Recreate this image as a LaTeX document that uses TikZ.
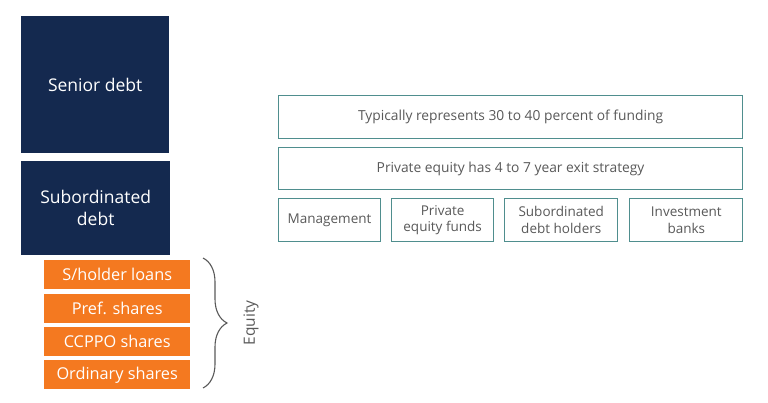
\documentclass[tikz,border=0pt]{standalone}
\usepackage{fontspec}
\setmainfont{Open Sans}
\usepackage{xcolor}
\definecolor{capnavy}{HTML}{14294F}
\definecolor{caporange}{HTML}{F47920}
\definecolor{capteal}{HTML}{4F8E8E}
\definecolor{capgray}{HTML}{595959}
\usepackage{tikz}
\usetikzlibrary{
  positioning,
  decorations.pathreplacing,
}

\begin{document}
\begin{tikzpicture}[
  x=1pt, y=-1pt,
  debt/.style={
    fill=capnavy,
    text=white,
    align=center,
    font=\fontsize{17.5}{22}\selectfont,
    inner sep=0pt,
    anchor=north west,
  },
  equitybox/.style={
    fill=caporange,
    text=white,
    minimum width=146pt,
    minimum height=29pt,
    inner sep=0pt,
    font=\fontsize{16.3}{18}\selectfont,
  },
  fact/.style={
    draw=capteal,
    line width=1.1pt,
    fill=white,
    text=capgray,
    minimum height=42pt,
    inner sep=0pt,
    align=center,
    font=\fontsize{13.8}{17}\selectfont,
  },
  investor/.style={
    fact,
    minimum height=43pt,
    font=\fontsize{13.5}{16.5}\selectfont,
  },
]

\useasboundingbox (0,0) rectangle (768,403);

% =============================================================================
% Capital structure stack (left)
% =============================================================================
\node[debt, minimum width=148pt, minimum height=137pt] (senior) at (21,16)
  {Senior debt};
\node[debt, minimum width=149pt, minimum height=94pt, below=7pt of senior.south west,
      anchor=north west] (subdebt) {Subordinated\\debt};

\node[equitybox, anchor=north west] (loans) at (44,260) {S/holder loans};
\node[equitybox, below=4pt of loans] (pref) {Pref. shares};
\node[equitybox, below=4pt of pref] (ccppo) {CCPPO shares};
\node[equitybox, below=4pt of ccppo] (ordinary) {Ordinary shares};

% brace grouping the equity layers
\coordinate (bracetop) at (203,258);
\coordinate (bracebot) at (203,388);
\draw[capgray, line width=1.1pt,
      decorate, decoration={brace, amplitude=24pt, aspect=0.5}]
  (bracetop) -- (bracebot);
\node[rotate=90, text=capgray, font=\fontsize{15.5}{18}\selectfont] (equity)
  at (251,323) {Equity};

% =============================================================================
% Subordinated debt characteristics (right)
% =============================================================================
\node[fact, minimum width=464pt, minimum height=43pt, anchor=north west] (share)
  at (278,95) {Typically represents 30 to 40 percent of funding};
\node[fact, minimum width=464pt, below=8pt of share] (exit)
  {Private equity has 4 to 7 year exit strategy};

\node[investor, minimum width=102pt, anchor=north west] (mgmt)
  at (278,198) {Management};
\node[investor, minimum width=102pt, right=10pt of mgmt] (pefunds)
  {Private\\equity funds};
\node[investor, minimum width=113pt, right=10pt of pefunds] (holders)
  {Subordinated\\debt holders};
\node[investor, minimum width=113pt, right=11pt of holders] (banks)
  {Investment\\banks};

\end{tikzpicture}
\end{document}
